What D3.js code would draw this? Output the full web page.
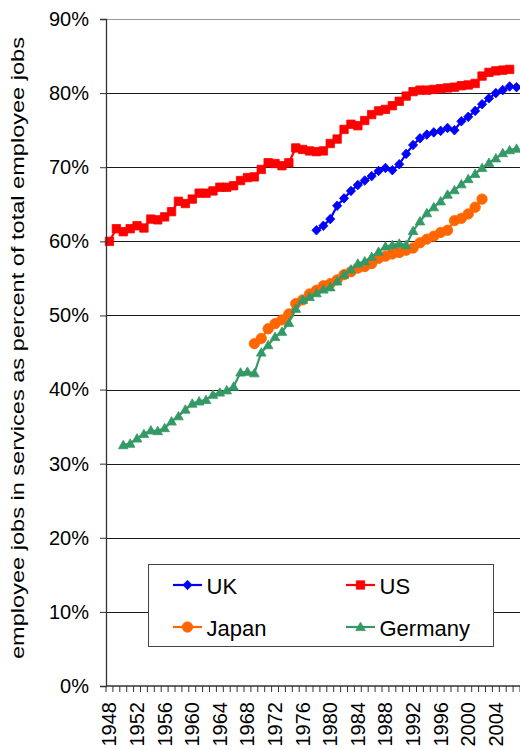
<!DOCTYPE html>
<html>
<head>
<meta charset="utf-8">
<script src="https://cdn.jsdelivr.net/npm/d3@7"></script>
<style>
  html, body { margin: 0; padding: 0; background: #fff; }
  svg { display: block; }
  text { font-family: "Liberation Sans", Arial, sans-serif; fill: #000; }
</style>
</head>
<body>
<svg id="chart" width="520" height="749"></svg>
<script>
// ---------- data ----------
const years = d3.range(1948, 2008);           // category axis 1948..2007
const yearLabels = [1948, 1952, 1956, 1960, 1964, 1968, 1972, 1976, 1980, 1984, 1988, 1992, 1996, 2000, 2004];
const yTicks = [0, 10, 20, 30, 40, 50, 60, 70, 80, 90];

const ukStart = 1978;
const ukValues = [61.5, 62.1, 63.0, 64.8, 65.8, 66.8, 67.6, 68.2, 68.8, 69.5, 69.9, 69.6, 70.4, 71.8, 73.0,
  73.9, 74.4, 74.7, 74.9, 75.3, 75.0, 76.2, 76.8, 77.6, 78.5, 79.3, 80.0, 80.4, 80.9, 80.8];

const usStart = 1948;
const usValues = [60.0, 61.7, 61.3, 61.7, 62.1, 61.8, 63.0, 62.9, 63.3, 64.0, 65.4, 65.1, 65.7, 66.5, 66.5,
  66.8, 67.3, 67.3, 67.5, 68.2, 68.6, 68.7, 69.7, 70.6, 70.5, 70.2, 70.6, 72.6, 72.4, 72.2, 72.1, 72.2,
  73.2, 73.8, 75.1, 75.8, 75.6, 76.3, 77.1, 77.6, 77.8, 78.3, 78.9, 79.6, 80.2, 80.4, 80.4, 80.5, 80.6,
  80.7, 80.8, 81.0, 81.1, 81.3, 82.3, 82.8, 83.0, 83.1, 83.2];

const japanStart = 1969;
const japanValues = [46.2, 46.9, 48.2, 48.9, 49.4, 50.2, 51.6, 52.1, 52.9, 53.4, 54.0, 54.3, 54.8, 55.5,
  55.9, 56.4, 56.6, 57.0, 57.7, 58.0, 58.3, 58.5, 58.8, 59.1, 59.8, 60.3, 60.7, 61.2, 61.5, 62.8, 63.1,
  63.7, 64.6, 65.7];

const germanyStart = 1950;
const germanyValues = [32.5, 32.7, 33.4, 34.0, 34.5, 34.4, 34.8, 35.7, 36.4, 37.3, 38.1, 38.4, 38.6, 39.3,
  39.6, 39.9, 40.4, 42.3, 42.4, 42.2, 45.0, 46.0, 47.1, 47.8, 49.0, 50.9, 52.1, 52.5, 53.0, 53.5, 53.8,
  54.6, 55.5, 56.2, 57.0, 57.3, 57.9, 58.6, 59.3, 59.5, 59.7, 59.5, 61.4, 62.7, 63.8, 64.6, 65.4, 66.3,
  66.9, 67.7, 68.4, 69.1, 69.9, 70.6, 71.2, 71.9, 72.3, 72.5];

const seriesNames = ["UK", "US", "Japan", "Germany"];
const seriesColors = ["#0000FF", "#FF0000", "#FF6600", "#339966"];
const seriesSymbols = ["diamond", "square", "circle", "triangle"];

const series = [
  { name: seriesNames[0], start: ukStart, values: ukValues },
  { name: seriesNames[1], start: usStart, values: usValues },
  { name: seriesNames[2], start: japanStart, values: japanValues },
  { name: seriesNames[3], start: germanyStart, values: germanyValues }
].map((s, i) => ({
  name: s.name, color: seriesColors[i], symbol: seriesSymbols[i],
  points: s.values.map((v, j) => ({ year: s.start + j, value: v }))
}));

// ---------- layout ----------
const svg = d3.select("#chart");
const pL = 106, pR = 520, pT = 19, pB = 686;

const x = d3.scaleBand().domain(years).range([pL, pR]).paddingInner(0).paddingOuter(0);
const xc = yr => x(yr) + x.bandwidth() / 2;
const y = d3.scaleLinear().domain([0, 90]).range([pB, pT]);

// gridlines
const grid = svg.append("g").attr("transform", `translate(${pL},0)`)
  .call(d3.axisLeft(y).tickValues(yTicks.filter(t => t > 0)).tickSize(-(pR - pL)).tickFormat(""));
grid.select(".domain").remove();
grid.selectAll(".tick line").attr("stroke", "#1a1a1a").attr("stroke-width", 1)
  .attr("shape-rendering", "crispEdges");
grid.selectAll(".tick").filter(d => d === 90).select("line").attr("stroke", "#999");

// symbol paths
function symbolPath(kind) {
  if (kind === "diamond") return "M0,-4.8L4.6,0L0,4.8L-4.6,0Z";
  if (kind === "square") return "M-4.2,-4.2H4.2V4.2H-4.2Z";
  if (kind === "circle") return d3.symbol(d3.symbolCircle, Math.PI * 5.2 * 5.2)();
  return "M0,-4.8L4.8,3.6L-4.8,3.6Z";
}

const line = d3.line().x(d => xc(d.year)).y(d => y(d.value));

series.forEach(s => {
  const g = svg.append("g");
  g.append("path").datum(s.points).attr("d", line)
    .attr("fill", "none").attr("stroke", s.color).attr("stroke-width", 2.2)
    .attr("stroke-linejoin", "round");
  g.selectAll("path.m").data(s.points).enter().append("path").attr("class", "m")
    .attr("d", symbolPath(s.symbol))
    .attr("transform", d => `translate(${xc(d.year)},${y(d.value)})`)
    .attr("fill", s.color).attr("stroke", s.color).attr("stroke-width", 0.8);
});

// y axis
const yAxis = svg.append("g").attr("transform", `translate(${pL},0)`)
  .call(d3.axisLeft(y).tickValues(yTicks).tickFormat(d => d + "%").tickSize(6).tickPadding(11));
yAxis.select(".domain").attr("stroke", "#333").attr("stroke-width", 1.3);
yAxis.selectAll(".tick line").attr("stroke", "#333");
yAxis.selectAll(".tick text").attr("font-size", 20).attr("font-family", "Liberation Sans, Arial, sans-serif")
  .attr("fill", "#000");

// x axis line + ticks at category boundaries
const xAxisG = svg.append("g");
xAxisG.append("line").attr("x1", pL).attr("x2", pR).attr("y1", pB).attr("y2", pB)
  .attr("stroke", "#333").attr("stroke-width", 1.3);
xAxisG.selectAll("line.t").data(years.concat([null])).enter().append("line").attr("class", "t")
  .attr("x1", (d, i) => i < years.length ? x(d) : pR)
  .attr("x2", (d, i) => i < years.length ? x(d) : pR)
  .attr("y1", pB).attr("y2", pB + 6)
  .attr("stroke", "#333").attr("stroke-width", 1);

// x labels via axis
const xAxis = svg.append("g").attr("transform", `translate(0,${pB})`)
  .call(d3.axisBottom(x).tickValues(yearLabels).tickSize(0).tickPadding(0));
xAxis.select(".domain").remove();
xAxis.selectAll(".tick text")
  .attr("font-size", 20).attr("font-family", "Liberation Sans, Arial, sans-serif").attr("fill", "#000")
  .attr("text-anchor", "end").attr("dy", "0.35em").attr("y", 0)
  .attr("transform", "translate(0,16) rotate(-90)");

// y title
svg.append("text")
  .attr("transform", "translate(24,348) rotate(-90)")
  .attr("text-anchor", "middle")
  .attr("font-size", 17.5)
  .attr("textLength", 622).attr("lengthAdjust", "spacingAndGlyphs")
  .text("employee jobs in services as percent of total employee jobs");

// legend
const lg = svg.append("g");
lg.append("rect").attr("x", 148.5).attr("y", 564.5).attr("width", 345).attr("height", 82)
  .attr("fill", "#fff").attr("stroke", "#444").attr("stroke-width", 1);
const legPos = [[173, 585], [346, 585], [173, 627], [346, 627]];
series.forEach((s, i) => {
  const [lx, ly] = legPos[i];
  lg.append("line").attr("x1", lx).attr("x2", lx + 29).attr("y1", ly).attr("y2", ly)
    .attr("stroke", s.color).attr("stroke-width", 2.2);
  lg.append("path").attr("d", symbolPath(s.symbol)).attr("transform", `translate(${lx + 14.5},${ly})`)
    .attr("fill", s.color).attr("stroke", s.color).attr("stroke-width", 0.8);
  lg.append("text").attr("x", lx + 33.5).attr("y", ly + 8.5).attr("font-size", 22).text(s.name);
});
</script>
</body>
</html>
